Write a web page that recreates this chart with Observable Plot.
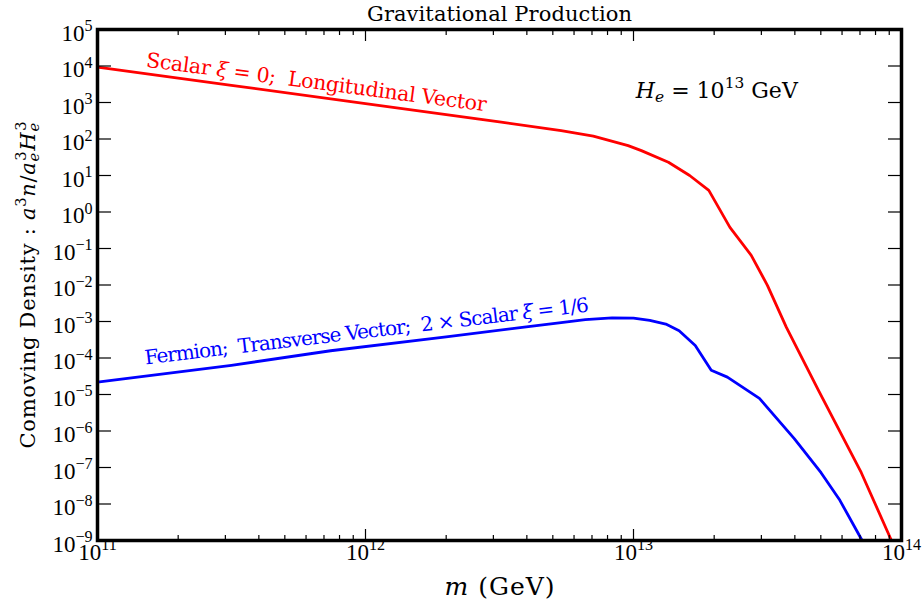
<!DOCTYPE html>
<html>
<head>
<meta charset="utf-8">
<script src="https://cdn.jsdelivr.net/npm/d3@7"></script>
<script src="https://cdn.jsdelivr.net/npm/@observablehq/plot@0.6"></script>
<style>
  body { margin: 0; background: #fff; }
  #chart { width: 924px; height: 607px; }
  svg text { white-space: pre; }
</style>
</head>
<body>
<div id="chart"></div>
<script>
// ---- data ----
const massRed = [1e11, 3.16e11, 1e12, 3.16e12, 5.37e12, 7.08e12, 9.55e12, 1.07e13, 1.35e13, 1.62e13, 1.91e13, 2.29e13, 2.75e13, 3.16e13, 3.72e13, 4.9e13, 7.08e13, 9.12e13, 1e14];
const densityRed = [9.3e3, 2.95e3, 9.3e2, 2.95e2, 1.7e2, 1.2e2, 66, 48, 23, 10, 3.9, 0.38, 0.065, 9.8e-3, 6.9e-4, 1.3e-5, 7.2e-8, 1.1e-9, 2.5e-10];

const massBlue = [1e11, 3.16e11, 7.41e11, 2.0e12, 3.98e12, 5.37e12, 6.61e12, 8.32e12, 1e13, 1.15e13, 1.32e13, 1.48e13, 1.7e13, 1.95e13, 2.24e13, 2.95e13, 3.98e13, 5.01e13, 5.89e13, 7.08e13, 7.94e13];
const densityBlue = [2.19e-5, 6.3e-5, 1.58e-4, 3.8e-4, 7.1e-4, 9.3e-4, 1.12e-3, 1.26e-3, 1.23e-3, 1.07e-3, 8.5e-4, 5.6e-4, 2.2e-4, 4.6e-5, 3.0e-5, 7.8e-6, 6.2e-7, 7.2e-8, 1.26e-8, 1.1e-9, 2e-10];

const xMajorTicks = [1e11, 1e12, 1e13, 1e14];
const xMinorTicks = [1e11, 1e12, 1e13].flatMap(d => [2, 3, 4, 5, 6, 7, 8, 9].map(k => k * d));
const yMajorTicks = [1e-9, 1e-8, 1e-7, 1e-6, 1e-5, 1e-4, 1e-3, 1e-2, 1e-1, 1e0, 1e1, 1e2, 1e3, 1e4, 1e5];

const titleText = "Gravitational Production";
const xLabelText = "m (GeV)";
const yLabelText = "Comoving Density : a3n/ae3He3";
const redLabelText = "Scalar ξ = 0;  Longitudinal Vector";
const blueLabelText = "Fermion;  Transverse Vector;  2 × Scalar ξ = 1/6";
const hLabelText = "He = 1013 GeV";

// annotation anchors (data space)
const redLabelPos = [{m: 6.56e11, n: 3.53e3}];
const blueLabelPos = [{m: 1.01e12, n: 5.3e-4}];
const hLabelPos = [{m: 1.02e13, n: 2.13e3}];

// ---- build tables ----
const red = massRed.map((m, i) => ({m, n: densityRed[i]}));
const blue = massBlue.map((m, i) => ({m, n: densityBlue[i]}));

const TEXTFONT = '"DejaVu Serif", serif';
const TICKFONT = '"Liberation Serif", serif';
const TICKFS = 23;
const tickFmt = d => "10^" + Math.round(Math.log10(d));

const plot = Plot.plot({
  width: 924,
  height: 607,
  marginLeft: 97,
  marginRight: 23,
  marginTop: 29,
  marginBottom: 67,
  style: {fontFamily: TEXTFONT, background: "white", color: "black"},
  x: {type: "log", domain: [1e11, 1e14]},
  y: {type: "log", domain: [1e-9, 1e5]},
  marks: [
    Plot.line(red, {x: "m", y: "n", stroke: "#ff0000", strokeWidth: 2.8, clip: true}),
    Plot.line(blue, {x: "m", y: "n", stroke: "#0000ff", strokeWidth: 2.8, clip: true}),
    // inward ticks
    Plot.axisX(xMajorTicks, {anchor: "bottom", tickSize: -11, fill: "none", tickFormat: () => "", label: null, strokeWidth: 1.2}),
    Plot.axisX(xMajorTicks, {anchor: "top", tickSize: -11, fill: "none", tickFormat: () => "", label: null, strokeWidth: 1.2}),
    Plot.axisX(xMinorTicks, {anchor: "bottom", tickSize: -5, fill: "none", tickFormat: () => "", label: null, strokeWidth: 1.2}),
    Plot.axisX(xMinorTicks, {anchor: "top", tickSize: -5, fill: "none", tickFormat: () => "", label: null, strokeWidth: 1.2}),
    Plot.axisY(yMajorTicks, {anchor: "left", tickSize: -14, fill: "none", tickFormat: () => "", label: null, strokeWidth: 1.2}),
    Plot.axisY(yMajorTicks, {anchor: "right", tickSize: -14, fill: "none", tickFormat: () => "", label: null, strokeWidth: 1.2}),
    // tick labels
    Plot.axisX(xMajorTicks, {anchor: "bottom", tickSize: 0, tickPadding: 3, tickFormat: tickFmt, label: null, fontSize: TICKFS, fontFamily: TICKFONT}),
    Plot.axisY(yMajorTicks, {anchor: "left", tickSize: 0, tickPadding: 5, tickFormat: tickFmt, label: null, fontSize: TICKFS, fontFamily: TICKFONT, dy: 4}),
    Plot.frame({stroke: "black", strokeWidth: 3.5}),
    // titles & labels
    Plot.text([titleText], {frameAnchor: "top", textAnchor: "middle", lineAnchor: "middle", dy: -15, fontSize: 21, text: d => d}),
    Plot.text([xLabelText], {frameAnchor: "bottom", textAnchor: "middle", lineAnchor: "middle", dy: 46.5, fontSize: 25, text: d => d}),
    Plot.text([yLabelText], {frameAnchor: "left", textAnchor: "middle", lineAnchor: "middle", dx: -69.5, rotate: -90, fontSize: 21, text: d => d}),
    Plot.text(redLabelPos, {x: "m", y: "n", text: () => redLabelText, rotate: 7.5, fill: "#ff0000", fontSize: 20.5}),
    Plot.text(blueLabelPos, {x: "m", y: "n", text: () => blueLabelText, rotate: -6.8, fill: "#0000ff", fontSize: 20}),
    Plot.text(hLabelPos, {x: "m", y: "n", text: () => hLabelText, textAnchor: "start", fontSize: 22})
  ]
});

document.getElementById("chart").appendChild(plot);

// ---- rich text (italics, super/subscripts) ----
function rich(el, parts, fs, family, len) {
  const sel = d3.select(el);
  sel.text(null).attr("font-size", fs);
  if (family) sel.attr("font-family", family);
  let cur = 0, lastW = 0;
  for (const p of parts) {
    const shift = p.sup ? -0.42 * fs : p.sub ? 0.22 * fs : 0;
    const ts = sel.append("tspan").text(p.t);
    if (shift - cur !== 0) ts.attr("dy", shift - cur);
    cur = shift;
    if (p.sup || p.sub) ts.attr("font-size", 0.7 * fs);
    if (p.i) ts.attr("font-style", "italic");
    if (p.stack) ts.attr("dx", -lastW);
    lastW = ts.node().getComputedTextLength();
  }
  if (len) sel.attr("textLength", len).attr("lengthAdjust", "spacing");
}

const richMap = new Map([
  [titleText, {fs: 21, len: 265, parts: [{t: titleText}]}],
  [yLabelText, {fs: 21, len: 327, parts: [
    {t: "Comoving Density : "}, {t: "a", i: true}, {t: "3", sup: true}, {t: "n", i: true}, {t: "/"},
    {t: "a", i: true}, {t: "e", sub: true, i: true}, {t: "3", sup: true, stack: true},
    {t: "H", i: true}, {t: "e", sub: true, i: true}, {t: "3", sup: true, stack: true}]}],
  [xLabelText, {fs: 25, len: 110, parts: [{t: "m", i: true}, {t: " (GeV)"}]}],
  [redLabelText, {fs: 20.5, len: 343, parts: [{t: "Scalar "}, {t: "ξ", i: true}, {t: " = 0;  Longitudinal Vector"}]}],
  [blueLabelText, {fs: 20, len: 447, parts: [{t: "Fermion;  Transverse Vector;  2 × Scalar "}, {t: "ξ", i: true}, {t: " = 1/6"}]}],
  [hLabelText, {fs: 22, len: 162, parts: [{t: "H", i: true}, {t: "e", sub: true, i: true}, {t: " = 10"}, {t: "13", sup: true}, {t: " GeV"}]}]
]);

d3.select(plot).selectAll("text").each(function () {
  const s = this.textContent;
  const m = /^10\^(-?\d+)$/.exec(s);
  if (m) {
    rich(this, [{t: "10"}, {t: m[1].replace("-", "\u2212"), sup: true}], TICKFS, TICKFONT);
  } else if (richMap.has(s)) {
    const r = richMap.get(s);
    rich(this, r.parts, r.fs, null, r.len);
  }
});
</script>
</body>
</html>
